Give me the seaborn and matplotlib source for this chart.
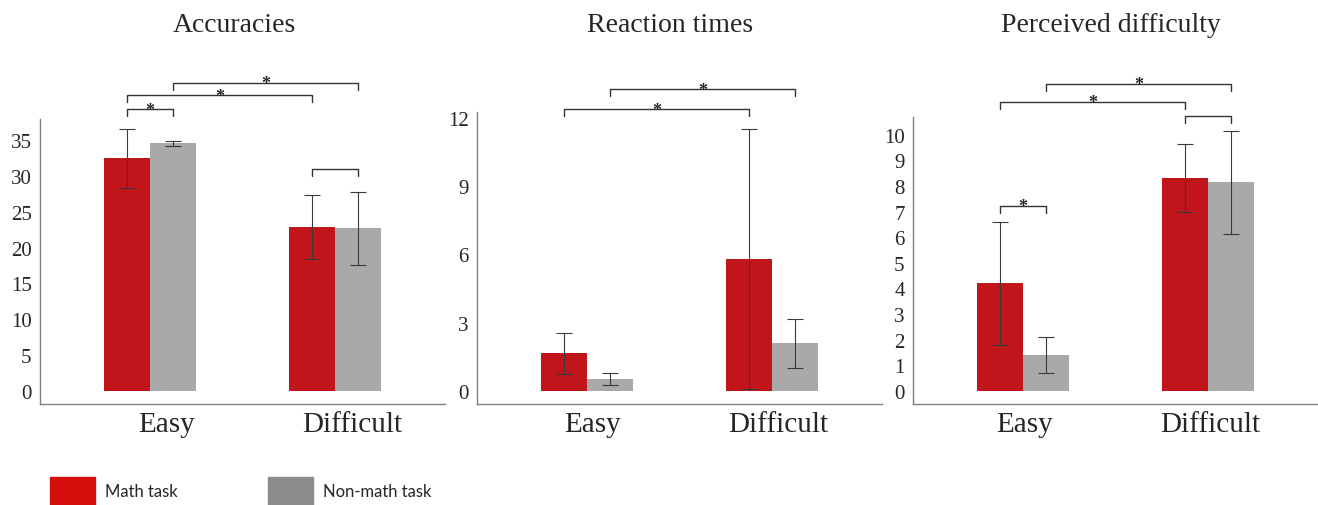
import matplotlib
matplotlib.use('Agg')
import matplotlib.pyplot as plt
import matplotlib.patches as mpatches
import matplotlib.transforms as mtransforms
import seaborn as sns
import pandas as pd

# ---- data ----
conditions = ['Easy', 'Difficult']
tasks = ['Math task', 'Non-math task']

acc_math = [32.5, 22.9]
acc_math_err = [4.1, 4.5]
acc_nonmath = [34.6, 22.7]
acc_nonmath_err = [0.35, 5.05]

rt_math = [1.65, 5.8]
rt_math_err = [0.9, 5.73]
rt_nonmath = [0.52, 2.08]
rt_nonmath_err = [0.26, 1.07]

diff_math = [4.2, 8.33]
diff_math_err = [2.4, 1.33]
diff_nonmath = [1.4, 8.14]
diff_nonmath_err = [0.7, 2.0]

# brackets: (hue a, cond a, hue b, cond b, y, significant)
acc_brackets = [(0, 0, 1, 0, 39.4, True), (0, 0, 0, 1, 41.3, True),
                (1, 0, 1, 1, 43.1, True), (0, 1, 1, 1, 31.0, False)]
rt_brackets = [(0, 0, 0, 1, 12.41, True), (1, 0, 1, 1, 13.29, True)]
diff_brackets = [(0, 0, 1, 0, 7.24, True), (0, 0, 0, 1, 11.3, True),
                 (1, 0, 1, 1, 12.0, True), (0, 1, 1, 1, 10.73, False)]

RED = '#c0161b'
GRAY = '#a9a9a9'
W, H = 1318, 506

sns.set_style('white')
plt.rcParams['font.family'] = ['Liberation Serif', 'DejaVu Serif']

panels = [
    dict(title='Accuracies', left=40, top=120, ylim=(-1.86, 38.0), yticks=range(0, 36, 5),
         means=(acc_math, acc_nonmath), errs=(acc_math_err, acc_nonmath_err),
         brackets=acc_brackets, shift=17, tx=234),
    dict(title='Reaction times', left=477, top=113, ylim=(-0.59, 12.28), yticks=range(0, 13, 3),
         means=(rt_math, rt_nonmath), errs=(rt_math_err, rt_nonmath_err),
         brackets=rt_brackets, shift=6, tx=670),
    dict(title='Perceived difficulty', left=913, top=118, ylim=(-0.52, 10.7), yticks=range(0, 11),
         means=(diff_math, diff_nonmath), errs=(diff_math_err, diff_nonmath_err),
         brackets=diff_brackets, shift=2, tx=1111),
]

fig = plt.figure(figsize=(W / 100, H / 100), dpi=100)

for p in panels:
    ax_h = 405 - p['top']
    ax = fig.add_axes([p['left'] / W, 1 - 405 / H, 405 / W, ax_h / H])
    df = pd.DataFrame({
        'condition': conditions * 2,
        'task': [tasks[0]] * 2 + [tasks[1]] * 2,
        'value': list(p['means'][0]) + list(p['means'][1]),
    })
    sns.barplot(data=df, x='condition', y='value', hue='task', order=conditions,
                hue_order=tasks, palette=[RED, GRAY], width=0.5, errorbar=None,
                saturation=1, legend=False, linewidth=0, ax=ax)

    bar_containers = list(ax.containers)
    centers = []
    for h, cont in enumerate(bar_containers):
        xs = [b.get_x() + b.get_width() / 2 for b in cont]
        ys = [b.get_height() for b in cont]
        centers.append(xs)
        ax.errorbar(xs, ys, yerr=p['errs'][h], fmt='none', ecolor='#3a3a3a',
                    elinewidth=0.8, capsize=6, capthick=0.8)

    ax.set_xlim(-0.595, 1.595)
    ax.set_ylim(*p['ylim'])
    ax.set_yticks(list(p['yticks']))
    ax.set_xlabel('')
    ax.set_ylabel('')
    ax.tick_params(axis='y', length=0, pad=6, labelsize=15)
    ax.tick_params(axis='x', length=0, pad=5, labelsize=21)
    for lab in ax.get_xticklabels():
        lab.set_transform(lab.get_transform() +
                          mtransforms.ScaledTranslation(p['shift'] / 100, 0, fig.dpi_scale_trans))
    for side in ['top', 'right']:
        ax.spines[side].set_visible(False)
    for side in ['left', 'bottom']:
        ax.spines[side].set_color('#808080')
        ax.spines[side].set_linewidth(1)

    # significance brackets
    tick = (p['ylim'][1] - p['ylim'][0]) * 7 / ax_h
    for ha, ca, hb, cb, y, star in p['brackets']:
        xa, xb = centers[ha][ca], centers[hb][cb]
        ax.plot([xa, xa, xb, xb], [y - tick, y, y, y - tick], color='#333333',
                lw=1, clip_on=False)
        if star:
            ax.annotate('*', xy=((xa + xb) / 2, y), xytext=(0, -4),
                        textcoords='offset points', ha='center', va='baseline',
                        fontsize=13, fontweight='bold', annotation_clip=False)

    fig.text(p['tx'] / W, 1 - 26 / H, p['title'], ha='center', va='center', fontsize=20)

handles = [mpatches.Patch(color='#d40d0d', label=tasks[0]),
           mpatches.Patch(color='#8c8c8c', label=tasks[1])]
fig.legend(handles=handles, loc='lower left', bbox_to_anchor=(50 / W, 0), ncol=2,
           frameon=False, prop={'family': 'Lato', 'size': 12}, handlelength=2.7,
           handleheight=2.2, handletextpad=0.6, columnspacing=5.45,
           borderpad=0, borderaxespad=0)

fig.savefig('out.png', dpi=100)
